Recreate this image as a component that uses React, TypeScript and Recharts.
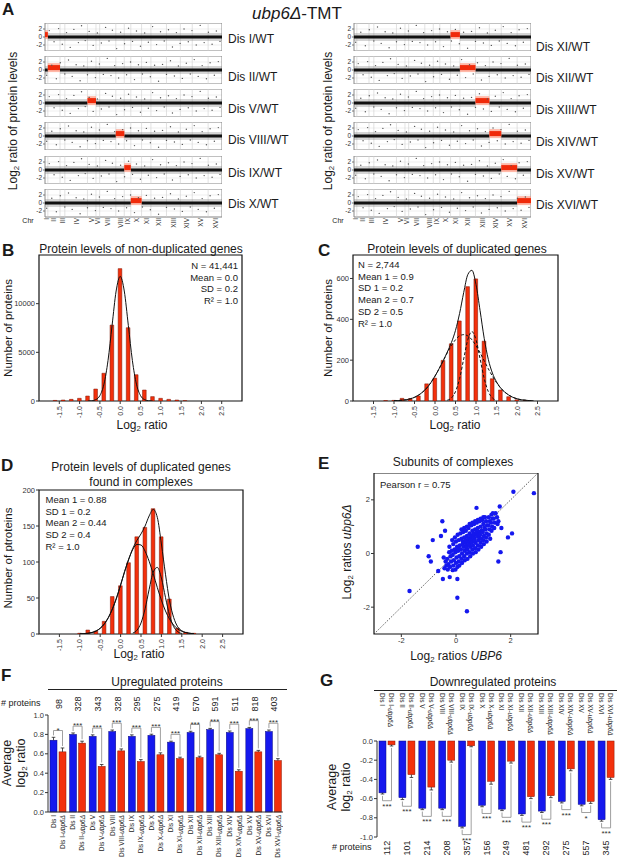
import React from 'react'
import { ComposedChart, Bar, Line, Scatter, XAxis, YAxis, ReferenceLine, ReferenceArea, CartesianGrid } from 'recharts'

const FONT = 'Arial, "Liberation Sans", Helvetica, sans-serif'
const RED = '#f3300c'
const BLUE = '#1518ee'
const INK = '#1a1a1a'

// ---------- A: protein ratios along the genome ----------
const chromosomes = ['I', 'II', 'III', 'IV', 'V', 'VI', 'VII', 'VIII', 'IX', 'X', 'XI', 'XII', 'XIII', 'XIV', 'XV', 'XVI']
const chrGenes = [100, 430, 170, 800, 300, 130, 570, 300, 230, 380, 330, 550, 490, 420, 560, 490]
const stripsLeft = ['I', 'II', 'V', 'VIII', 'IX', 'X']
const stripsRight = ['XI', 'XII', 'XIII', 'XIV', 'XV', 'XVI']
const dupLevel = 0.6
const strayOdd: [number, number][] = [[150,1.6],[320,-1.2],[480,2.1],[610,-1.8],[760,1.1],[890,-2.6],[1020,1.9],[1180,-1.4],[1290,2.8],[1420,-0.9],[1560,1.4],[1700,-2.1],[1850,1.0],[1990,-1.5],[2140,2.4],[2260,-1.0],[2380,1.7],[2530,-2.9],[2670,1.2],[2810,-1.7],[2950,2.2],[3090,-1.1],[3230,1.5],[3370,-2.3],[3520,1.0],[3650,-1.3],[3800,2.6],[3940,-1.9],[4080,1.3],[4210,-1.0],[4360,1.8],[4500,-2.5],[4640,1.1],[4770,-1.6],[4910,2.0],[5060,-1.2],[5190,1.6],[5340,-2.0],[5480,2.9],[5620,-1.4],[5770,1.2],[5900,-1.8],[6050,1.5],[6180,-1.1]]
const strayEven: [number, number][] = [[60,-1.3],[240,1.2],[400,-2.2],[540,1.8],[700,-1.0],[830,2.5],[960,-1.6],[1100,1.3],[1240,-2.7],[1370,1.0],[1500,-1.2],[1640,2.2],[1780,-1.9],[1920,1.5],[2060,-1.1],[2200,2.9],[2330,-1.4],[2460,1.1],[2600,-2.0],[2740,1.6],[2880,-1.2],[3020,2.0],[3160,-2.4],[3300,1.3],[3440,-1.0],[3580,1.9],[3720,-1.7],[3870,1.2],[4010,-2.8],[4150,1.4],[4290,-1.1],[4430,2.3],[4570,-1.5],[4710,1.0],[4850,-2.1],[4990,1.7],[5130,-1.0],[5270,2.6],[5410,-1.6],[5550,1.1],[5700,-2.2],[5830,1.8],[5980,-1.3],[6120,2.1]]

// ---------- B/C/D: histograms ----------
const histTicks = [-1.5, -1.0, -0.5, 0.0, 0.5, 1.0, 1.5, 2.0, 2.5]
const binsB = [-1.6, -1.4, -1.2, -1.0, -0.8, -0.6, -0.4, -0.2, 0.0, 0.2, 0.4, 0.6, 0.8, 1.0, 1.2, 1.4, 1.6]
const countsB = [60, 100, 170, 275, 510, 1230, 2850, 7800, 13600, 7530, 2700, 1130, 450, 275, 170, 100, 35]
const fitXB = [-0.8, -0.7, -0.6, -0.5, -0.4, -0.3, -0.2, -0.1, 0.0, 0.1, 0.2, 0.3, 0.4, 0.5, 0.6, 0.7, 0.8]
const fitB = [0, 20, 140, 560, 1730, 4160, 7770, 11300, 12800, 11300, 7770, 4160, 1730, 560, 140, 20, 0]

const binsC = [-1.2, -1.0, -0.8, -0.6, -0.4, -0.2, 0.0, 0.2, 0.4, 0.6, 0.8, 1.0, 1.2, 1.4, 1.6, 1.8, 2.0, 2.2]
const countsC = [2, 3, 13, 11, 25, 84, 112, 199, 280, 392, 560, 598, 293, 109, 54, 21, 6, 2]
const fitX = [-1.0, -0.9, -0.8, -0.7, -0.6, -0.5, -0.4, -0.3, -0.2, -0.1, 0.0, 0.1, 0.2, 0.3, 0.4, 0.5, 0.6, 0.7, 0.8, 0.9, 1.0, 1.1, 1.2, 1.3, 1.4, 1.5, 1.6, 1.7, 1.8, 1.9, 2.0, 2.1, 2.2, 2.3, 2.4]
const fitC = [1, 2, 4, 6, 11, 18, 29, 44, 64, 90, 122, 158, 197, 240, 286, 346, 429, 531, 619, 640, 571, 442, 307, 204, 137, 94, 64, 44, 29, 18, 11, 6, 4, 2, 1]
const fitC2 = [1, 2, 4, 6, 11, 18, 29, 44, 64, 90, 122, 158, 197, 236, 271, 300, 319, 325, 319, 300, 271, 236, 197, 158, 122, 90, 64, 44, 29, 18, 11, 6, 4, 2, 1]
const fitXC1 = [0.3, 0.4, 0.5, 0.6, 0.7, 0.8, 0.9, 1.0, 1.1, 1.2, 1.3, 1.4, 1.5]
const fitC1 = [4, 15, 46, 110, 206, 300, 340, 300, 206, 110, 46, 15, 4]

const binsD = [-1.0, -0.8, -0.6, -0.4, -0.2, 0.0, 0.2, 0.4, 0.6, 0.8, 1.0, 1.2, 1.4, 1.6, 1.8]
const countsD = [1, 5.5, 4, 17.6, 52, 67, 99, 135, 148, 174, 135, 48.5, 8, 2.3, 1]
const fitXD = [-1.0, -0.9, -0.8, -0.7, -0.6, -0.5, -0.4, -0.3, -0.2, -0.1, 0.0, 0.1, 0.2, 0.3, 0.4, 0.5, 0.6, 0.7, 0.8, 0.9, 1.0, 1.1, 1.2, 1.3, 1.4, 1.5, 1.6, 1.7, 1.8]
const fitD = [0, 0.5, 1, 2, 4, 8, 14, 23, 35, 50, 68, 87, 104, 119, 130, 139, 150, 164, 173, 162, 125, 83, 46, 23, 10, 4.5, 2, 1, 0.4]
const fitD2 = [0.2, 0.5, 1, 2.2, 4.3, 7.9, 13.8, 22.6, 34.8, 50, 68, 87, 104, 117.6, 124.4, 123.6, 115, 101, 83.4, 64.5, 47, 32, 20.6, 12.4, 7, 3.7, 1.9, 0.9, 0.4]
const fitXD1 = [0.3, 0.4, 0.5, 0.6, 0.7, 0.8, 0.9, 1.0, 1.1, 1.2, 1.3, 1.4, 1.5]
const fitD1 = [1.4, 5.2, 15.3, 35, 62, 86, 92.5, 77.7, 50.8, 25.8, 10.3, 3.2, 0.8]

// ---------- E: subunits of complexes (UBP6 vs ubp6Δ) ----------
const complexPts: [number, number][] = [
  [-0.42,-0.55],[-0.38,-0.3],[-0.45,-0.15],[-0.3,-0.6],[-0.28,-0.4],[-0.32,-0.2],[-0.25,0.05],[-0.35,-0.45],
  [-0.22,-0.5],[-0.18,-0.3],[-0.2,-0.1],[-0.15,0.1],[-0.24,0.25],[-0.12,-0.62],
  [-0.1,-0.45],[-0.08,-0.25],[-0.12,-0.05],[-0.05,0.15],[-0.1,0.35],[-0.02,-0.6],[-0.14,0.5],
  [0.0,-0.35],[0.02,-0.15],[-0.02,0.05],[0.04,0.25],[0.0,0.45],[0.05,-0.5],[-0.04,0.6],[0.03,0.12],
  [0.1,-0.3],[0.12,-0.1],[0.08,0.1],[0.14,0.3],[0.1,0.5],[0.06,0.7],[0.12,-0.45],[0.1,0.2],
  [0.2,-0.2],[0.22,0.0],[0.18,0.15],[0.24,0.35],[0.2,0.55],[0.16,0.75],[0.22,-0.35],[0.2,0.9],[0.25,0.45],
  [0.3,-0.1],[0.32,0.1],[0.28,0.25],[0.34,0.4],[0.3,0.6],[0.26,0.8],[0.32,-0.25],[0.3,0.95],[0.35,0.5],
  [0.4,0.0],[0.42,0.15],[0.38,0.3],[0.44,0.45],[0.4,0.65],[0.36,0.85],[0.42,-0.2],[0.4,1.0],[0.45,0.55],[0.38,0.22],
  [0.5,0.05],[0.52,0.25],[0.48,0.4],[0.54,0.55],[0.5,0.75],[0.46,0.95],[0.52,-0.1],[0.5,1.1],[0.55,0.65],[0.48,0.32],
  [0.6,0.15],[0.62,0.3],[0.58,0.5],[0.64,0.65],[0.6,0.85],[0.56,1.05],[0.62,0.0],[0.6,1.15],[0.65,0.75],[0.58,0.42],
  [0.7,0.2],[0.72,0.4],[0.68,0.55],[0.74,0.7],[0.7,0.9],[0.66,1.1],[0.72,0.05],[0.7,1.2],[0.75,0.8],[0.68,0.48],
  [0.8,0.3],[0.82,0.5],[0.78,0.65],[0.84,0.8],[0.8,0.95],[0.76,1.15],[0.82,0.15],[0.8,1.25],[0.85,0.6],
  [0.9,0.4],[0.92,0.55],[0.88,0.7],[0.94,0.85],[0.9,1.0],[0.86,1.2],[0.92,0.25],[0.9,1.3],
  [1.0,0.5],[1.02,0.65],[0.98,0.8],[1.04,0.95],[1.0,1.1],[0.96,1.25],[1.02,0.35],[1.0,1.35],
  [1.1,0.6],[1.12,0.75],[1.08,0.9],[1.14,1.05],[1.1,1.2],[1.06,1.35],[1.12,0.45],
  [1.2,0.7],[1.22,0.9],[1.18,1.05],[1.24,1.2],[1.2,1.35],[1.25,0.55],
  [1.3,0.85],[1.32,1.0],[1.28,1.15],[1.34,1.3],[1.3,1.45],[1.4,0.95],[1.42,1.15],[1.38,1.3],[1.45,1.5],
  [1.52,1.1],[1.5,1.35],[1.55,1.2],
  // outliers
  [-1.4,0.25],[-1.7,-1.4],[0.4,-2.15],[0.05,-1.65],[-0.85,0.5],[-0.5,1.2],[-0.4,0.85],[-0.55,0.65],
  [-1.0,-0.1],[-0.92,-0.3],[-0.65,-0.65],[-0.48,-0.95],[-0.23,-0.88],[0.05,-0.95],[0.75,1.7],[1.35,1.5],
  [1.6,1.75],[1.66,0.95],[2.05,0.75],[1.9,0.6],[1.63,0.05],[1.55,-0.3],[2.1,2.3],[2.85,2.25],
]

// ---------- F/G: average log2 ratios ----------
const groups = ['I', 'II', 'V', 'VIII', 'IX', 'X', 'XI', 'XII', 'XIII', 'XIV', 'XV', 'XVI']
const upCounts = [98, 328, 343, 328, 295, 275, 419, 570, 591, 511, 818, 403]
const upWT = [0.74, 0.80, 0.78, 0.83, 0.78, 0.79, 0.72, 0.82, 0.85, 0.82, 0.86, 0.83]
const upWTErr = [0.03, 0.015, 0.015, 0.015, 0.015, 0.012, 0.01, 0.012, 0.012, 0.015, 0.012, 0.015]
const upDel = [0.62, 0.71, 0.47, 0.63, 0.52, 0.59, 0.55, 0.56, 0.59, 0.42, 0.62, 0.53]
const upDelErr = [0.04, 0.02, 0.02, 0.02, 0.02, 0.02, 0.015, 0.015, 0.015, 0.015, 0.015, 0.02]
const upSig = ['*', '***', '***', '***', '***', '***', '***', '***', '***', '***', '***', '***']

const downCounts = [112, 101, 214, 208, 357, 156, 249, 481, 292, 275, 557, 345]
const downWT = [-0.54, -0.59, -0.70, -0.70, -0.89, -0.67, -0.71, -0.76, -0.73, -0.63, -0.66, -0.82]
const downWTErr = [0.012, 0.02, 0.015, 0.015, 0.015, 0.015, 0.015, 0.015, 0.015, 0.015, 0.015, 0.015]
const downDel = [-0.04, -0.35, -0.48, -0.20, -0.05, -0.42, -0.21, -0.58, -0.57, -0.29, -0.63, -0.38]
const downDelErr = [0.012, 0.03, 0.03, 0.02, 0.01, 0.03, 0.02, 0.02, 0.02, 0.02, 0.02, 0.02]
const downSig = ['***', '***', '***', '***', '***', '***', '***', '***', '***', '***', '*', '***']

// ---------- derived ----------
const chrStart = chrGenes.map((_, i) => chrGenes.slice(0, i).reduce((a, b) => a + b, 0))
const genomeLen = chrGenes.reduce((a, b) => a + b, 0)
const chrCenters = chrStart.map((s, i) => s + chrGenes[i] / 2)

const Sub = ({ c }: { c: string }) => <span style={{ fontSize: '0.65em', verticalAlign: '-0.3em' }}>{c}</span>

const Txt = ({ x, y, size = 12, anchor = 'start', rot = 0, weight, children }: any) => {
  const tx = anchor === 'middle' ? '-50%' : anchor === 'end' ? '-100%' : '0'
  return (
    <div style={{ position: 'absolute', left: x, top: y, transform: `translate(${tx}, -50%) rotate(${rot}deg)`, fontSize: size, lineHeight: 1.05, whiteSpace: 'nowrap', fontWeight: weight, color: INK }}>
      {children}
    </div>
  )
}

const ChrTick = (p: any) => {
  const i = chrCenters.indexOf(p.payload.value)
  return (
    <text x={p.x} y={p.y + 1} transform={`rotate(-90 ${p.x} ${p.y + 1})`} textAnchor="end" dominantBaseline="central" fontSize={6.5} fill="#333" fontFamily={FONT}>
      {chromosomes[i]}
    </text>
  )
}

const strayDot = (p: any) => <circle cx={p.cx} cy={p.cy} r={0.7} fill="#555" />

function Strip({ chr, stray, left, top, last }: any) {
  const i = chromosomes.indexOf(chr)
  const s = chrStart[i]
  const e = s + chrGenes[i]
  const band = [{ g: 0, v: 0 }, { g: s, v: 0 }, { g: (s + e) / 2, v: null }, { g: e, v: 0 }, { g: genomeLen, v: 0 }]
  const dup = [{ g: s, v: dupLevel }, { g: e, v: dupLevel }]
  const pts = stray.map(([g, v]: [number, number]) => ({ g, v }))
  return (
    <div style={{ position: 'absolute', left: left - 14, top }}>
      <ComposedChart width={14 + 177} height={last ? 28 + 18 : 28} margin={{ top: 0, right: 0, bottom: 0, left: 0 }}>
        <XAxis type="number" dataKey="g" domain={[0, genomeLen]} hide={!last} ticks={chrCenters} interval={0} tick={ChrTick} tickLine={false} axisLine={false} tickSize={0} tickMargin={0} height={18} allowDataOverflow />
        <YAxis type="number" dataKey="v" domain={[-3.5, 3.5]} ticks={[-2, 0, 2]} interval={0} width={14} tick={{ fontSize: 6.5, fill: '#333' }} tickSize={2} tickMargin={1} axisLine={false} tickLine={{ stroke: '#777' }} allowDataOverflow />
        <CartesianGrid vertical={false} stroke="#e4e4e4" strokeWidth={0.6} />
        {chrStart.slice(1).map((b) => <ReferenceLine key={b} x={b} stroke="#cfcfcf" strokeWidth={0.6} />)}
        <Scatter data={pts} shape={strayDot} isAnimationActive={false} />
        <Line data={band} dataKey="v" stroke="#888" strokeOpacity={0.35} strokeWidth={8} dot={false} isAnimationActive={false} />
        <Line data={band} dataKey="v" stroke="#111" strokeWidth={3} dot={false} isAnimationActive={false} />
        <Line data={dup} dataKey="v" stroke="#ff8a70" strokeOpacity={0.6} strokeWidth={9} dot={false} isAnimationActive={false} />
        <Line data={dup} dataKey="v" stroke="#f02a0a" strokeWidth={5} dot={false} isAnimationActive={false} />
        <ReferenceArea x1={0} x2={genomeLen} y1={-3.5} y2={3.5} fill="none" stroke="#8a8a8a" strokeWidth={1} />
      </ComposedChart>
    </div>
  )
}

const HistTick = (p: any) => (
  <text x={p.x} y={p.y} transform={`rotate(-90 ${p.x} ${p.y})`} textAnchor="end" dominantBaseline="central" fontSize={7} fill="#333" fontFamily={FONT}>
    {Number(p.payload.value).toFixed(1)}
  </text>
)

function Histo({ left, top, w, h, xs, counts, yMax, yTicks, curves }: any) {
  const bins = xs.map((x: number, i: number) => ({ x, n: counts[i] }))
  return (
    <div style={{ position: 'absolute', left: left - 30, top: top - 6 }}>
      <ComposedChart width={30 + w + 1} height={h + 26 + 6} data={bins} margin={{ top: 6, right: 1, bottom: 0, left: 0 }}>
        <XAxis type="number" dataKey="x" domain={[-2, 3]} ticks={histTicks} interval={0} tick={HistTick} tickSize={3} tickMargin={2} axisLine={false} tickLine={{ stroke: '#333' }} height={26} allowDataOverflow />
        <YAxis type="number" domain={[0, yMax]} ticks={yTicks} interval={0} width={30} tick={{ fontSize: 7.5, fill: '#333' }} tickSize={3} tickMargin={1} axisLine={false} tickLine={{ stroke: '#333' }} allowDataOverflow />
        <Bar dataKey="n" fill={RED} stroke="#7a1200" strokeWidth={0.5} barSize={6} isAnimationActive={false} />
        {curves.map((c: any, i: number) => (
          <Line key={i} data={c.xs.map((x: number, j: number) => ({ x, y: c.ys[j] }))} dataKey="y" type="monotone" stroke="#111" strokeWidth={1} strokeDasharray={c.dash} dot={false} isAnimationActive={false} />
        ))}
        <ReferenceArea x1={-2} x2={3} y1={0} y2={yMax} fill="none" stroke="#111" strokeWidth={1.2} />
      </ComposedChart>
    </div>
  )
}

// bar + one-sided error bar; the ubp6Δ bar also draws the significance bracket
function pairBar(key: 'wt' | 'del', ppu: number, up: boolean) {
  return (p: any) => {
    const { x, y, width, height, payload } = p
    const top = Math.min(y, y + height)
    const h = Math.abs(height)
    const zeroY = up ? top + h : top
    const dir = up ? -1 : 1
    const at = (m: number) => zeroY + dir * m * ppu
    const cx = x + width / 2
    const val = Math.abs(payload[key])
    const err = payload[key + 'Err']
    const errY = at(val + err)
    const parts: any[] = [
      <rect key="r" x={x} y={top} width={width} height={h} fill={key === 'wt' ? BLUE : RED} stroke={key === 'wt' ? '#0a0a80' : '#8a1500'} strokeWidth={0.5} />,
      <line key="e" x1={cx} x2={cx} y1={at(val)} y2={errY} stroke="#222" strokeWidth={0.8} />,
      <line key="c" x1={cx - 1.8} x2={cx + 1.8} y1={errY} y2={errY} stroke="#222" strokeWidth={0.8} />,
    ]
    if (key === 'del') {
      const bx = x - 2 - width / 2
      const wt = Math.abs(payload.wt)
      const lvl = at(Math.max(wt + payload.wtErr, val + err) + 0.07)
      parts.push(
        <path key="b" d={`M${bx},${at(wt + payload.wtErr + 0.02)} V${lvl} H${cx} V${at(val + err + 0.02)}`} fill="none" stroke="#888" strokeWidth={0.8} />,
        <text key="s" x={(bx + cx) / 2} y={up ? lvl + 2 : lvl + 8} textAnchor="middle" fontSize={8} fill="#333" fontFamily={FONT}>{payload.sig}</text>,
      )
    }
    return <g>{parts}</g>
  }
}

const DelLabel = ({ x, y, name, rot, anchor }: any) => (
  <text x={x} y={y} transform={`rotate(${rot} ${x} ${y})`} textAnchor={anchor} dominantBaseline="central" fontSize={6.5} fill="#222" fontFamily={FONT}>
    Dis {name}-<tspan fontStyle="italic">ubp6Δ</tspan>
  </text>
)

const FBottomTick = (p: any) => {
  const name = p.payload.value
  const y0 = p.y + 3
  return (
    <g>
      <text x={p.x - 4.5} y={y0} transform={`rotate(-90 ${p.x - 4.5} ${y0})`} textAnchor="end" dominantBaseline="central" fontSize={6.5} fill="#222" fontFamily={FONT}>Dis {name}</text>
      <DelLabel x={p.x + 4.5} y={y0} name={name} rot={-90} anchor="end" />
    </g>
  )
}

const FTopTick = (p: any) => {
  const i = groups.indexOf(p.payload.value)
  const y0 = p.y - 11
  return (
    <text x={p.x + 1} y={y0} transform={`rotate(-90 ${p.x + 1} ${y0})`} textAnchor="middle" dominantBaseline="central" fontSize={9} fill="#222" fontFamily={FONT}>{upCounts[i]}</text>
  )
}

const GTopTick = (p: any) => {
  const name = p.payload.value
  const y0 = p.y - 48
  return (
    <g>
      <text x={p.x - 4.5} y={y0} transform={`rotate(90 ${p.x - 4.5} ${y0})`} textAnchor="start" dominantBaseline="central" fontSize={6.5} fill="#222" fontFamily={FONT}>Dis {name}</text>
      <DelLabel x={p.x + 4.5} y={y0} name={name} rot={90} anchor="start" />
    </g>
  )
}

const GBottomTick = (p: any) => {
  const i = groups.indexOf(p.payload.value)
  const y0 = p.y + 11
  return (
    <text x={p.x} y={y0} transform={`rotate(-90 ${p.x} ${y0})`} textAnchor="middle" dominantBaseline="central" fontSize={9} fill="#222" fontFamily={FONT}>{downCounts[i]}</text>
  )
}

const upRows = groups.map((name, i) => ({ name, wt: upWT[i], wtErr: upWTErr[i], del: upDel[i], delErr: upDelErr[i], sig: upSig[i] }))
const downRows = groups.map((name, i) => ({ name, wt: downWT[i], wtErr: downWTErr[i], del: downDel[i], delErr: downDelErr[i], sig: downSig[i] }))
const fix1 = (v: number) => v.toFixed(1)

const STRIP_TOPS = [23, 56, 89, 122, 156, 189]
const leftLabelOff = [16, 21, 20, 18, 17, 15]
const rightLabelOff = [24, 22, 21, 20, 18, 16]

export default function App() {
  return (
    <div style={{ position: 'absolute', left: 0, top: 0, width: 617, height: 860, background: '#fff', overflow: 'hidden', fontFamily: FONT, color: INK }}>
      {/* A */}
      <Txt x={2} y={10} size={17} weight="bold">A</Txt>
      <Txt x={297} y={14} size={17} anchor="middle"><i>ubp6Δ</i>-TMT</Txt>
      <Txt x={14} y={121} size={12} anchor="middle" rot={-90}>Log<Sub c="2" /> ratio of protein levels</Txt>
      <Txt x={329} y={121} size={12} anchor="middle" rot={-90}>Log<Sub c="2" /> ratio of protein levels</Txt>
      {stripsLeft.map((c, k) => (
        <React.Fragment key={c}>
          <Strip chr={c} stray={k % 2 ? strayEven : strayOdd} left={45} top={STRIP_TOPS[k]} last={k === 5} />
          <Txt x={228} y={STRIP_TOPS[k] + leftLabelOff[k]} size={12}>Dis {c}/WT</Txt>
        </React.Fragment>
      ))}
      {stripsRight.map((c, k) => (
        <React.Fragment key={c}>
          <Strip chr={c} stray={k % 2 ? strayOdd : strayEven} left={354} top={STRIP_TOPS[k]} last={k === 5} />
          <Txt x={536} y={STRIP_TOPS[k] + rightLabelOff[k]} size={12}>Dis {c}/WT</Txt>
        </React.Fragment>
      ))}
      <Txt x={28} y={221} size={7} anchor="middle">Chr</Txt>
      <Txt x={338} y={221} size={7} anchor="middle">Chr</Txt>

      {/* B */}
      <Txt x={2} y={251} size={17} weight="bold">B</Txt>
      <Txt x={141} y={249} size={12} anchor="middle">Protein levels of non-duplicated genes</Txt>
      <Histo left={39} top={255} w={203} h={146} xs={binsB} counts={countsB} yMax={15000} yTicks={[0, 5000, 10000]}
        curves={[{ xs: fitXB, ys: fitB }]} />
      <Txt x={238} y={266} size={9.5} anchor="end">N = 41,441</Txt>
      <Txt x={238} y={277.5} size={9.5} anchor="end">Mean = 0.0</Txt>
      <Txt x={238} y={289} size={9.5} anchor="end">SD = 0.2</Txt>
      <Txt x={238} y={300.5} size={9.5} anchor="end">R² = 1.0</Txt>
      <Txt x={8} y={328} size={11.5} anchor="middle" rot={-90}>Number of proteins</Txt>
      <Txt x={142} y={426} size={12} anchor="middle">Log<Sub c="2" /> ratio</Txt>

      {/* C */}
      <Txt x={318} y={251} size={17} weight="bold">C</Txt>
      <Txt x={457} y={249} size={12} anchor="middle">Protein levels of duplicated genes</Txt>
      <Histo left={353} top={255} w={205} h={146} xs={binsC} counts={countsC} yMax={715} yTicks={[0, 200, 400, 600]}
        curves={[{ xs: fitX, ys: fitC }, { xs: fitX, ys: fitC2, dash: '3 2' }, { xs: fitXC1, ys: fitC1, dash: '3 2' }]} />
      {['N = 2,744', 'Mean 1  = 0.9', 'SD 1 = 0.2', 'Mean 2 = 0.7', 'SD 2 = 0.5', 'R² = 1.0'].map((t, k) => (
        <Txt key={t} x={358} y={265 + k * 11.7} size={9.5}>{t}</Txt>
      ))}
      <Txt x={328} y={328} size={11.5} anchor="middle" rot={-90}>Number of proteins</Txt>
      <Txt x={455} y={426} size={12} anchor="middle">Log<Sub c="2" /> ratio</Txt>

      {/* D */}
      <Txt x={1} y={466} size={17} weight="bold">D</Txt>
      <Txt x={141} y={467} size={12} anchor="middle">Protein levels of duplicated genes</Txt>
      <Txt x={141} y={482} size={12} anchor="middle">found in complexes</Txt>
      <Histo left={39} top={490} w={204} h={144} xs={binsD} counts={countsD} yMax={200} yTicks={[0, 50, 100, 150, 200]}
        curves={[{ xs: fitXD, ys: fitD }, { xs: fitXD, ys: fitD2 }, { xs: fitXD1, ys: fitD1 }]} />
      {['Mean 1 = 0.88', 'SD 1 = 0.2', 'Mean 2 = 0.44', 'SD 2 = 0.4', 'R² = 1.0'].map((t, k) => (
        <Txt key={t} x={45.5} y={500 + k * 11.7} size={9.5}>{t}</Txt>
      ))}
      <Txt x={8} y={558} size={11.5} anchor="middle" rot={-90}>Number of ptroteins</Txt>
      <Txt x={139} y={655} size={12} anchor="middle">Log<Sub c="2" /> ratio</Txt>

      {/* E */}
      <Txt x={318} y={464} size={17} weight="bold">E</Txt>
      <Txt x={453} y={462} size={12} anchor="middle">Subunits of complexes</Txt>
      <div style={{ position: 'absolute', left: 354, top: 473 }}>
        <ComposedChart width={20 + 164 + 1} height={161 + 16} margin={{ top: 0, right: 1, bottom: 0, left: 0 }}>
          <XAxis type="number" dataKey="x" domain={[-3, 3]} ticks={[-2, 0, 2]} interval={0} tick={{ fontSize: 7.5, fill: '#333' }} tickSize={3} tickMargin={1} axisLine={false} tickLine={{ stroke: '#333' }} height={16} allowDataOverflow />
          <YAxis type="number" dataKey="y" domain={[-3, 3]} ticks={[-2, 0, 2]} interval={0} width={20} tick={{ fontSize: 7.5, fill: '#333' }} tickSize={3} tickMargin={1} axisLine={false} tickLine={{ stroke: '#333' }} allowDataOverflow />
          <ReferenceLine segment={[{ x: -3, y: -3 }, { x: 3, y: 3 }]} stroke="#333" strokeWidth={0.8} strokeDasharray="1.5 1.5" />
          <Scatter data={complexPts.map(([x, y]) => ({ x, y }))} shape={(p: any) => <circle cx={p.cx} cy={p.cy} r={2.2} fill={BLUE} />} isAnimationActive={false} />
          <ReferenceArea x1={-3} x2={3} y1={-3} y2={3} fill="none" stroke="#111" strokeWidth={1.2} />
        </ComposedChart>
      </div>
      <Txt x={380} y={485} size={9.5}>Pearson r = 0.75</Txt>
      <Txt x={348} y={552} size={12} anchor="middle" rot={-90}>Log<Sub c="2" /> ratios <i>ubp6Δ</i></Txt>
      <Txt x={456} y={657} size={12} anchor="middle">Log<Sub c="2" /> ratios <i>UBP6</i></Txt>

      {/* F */}
      <Txt x={1} y={676} size={17} weight="bold">F</Txt>
      <Txt x={167} y={682} size={12} anchor="middle">Upregulated proteins</Txt>
      <div style={{ position: 'absolute', left: 48, top: 689, width: 239, height: 1, background: '#222' }} />
      <Txt x={1} y={704} size={9}># proteins</Txt>
      <div style={{ position: 'absolute', left: 22, top: 691 }}>
        <ComposedChart width={26 + 235} height={24 + 97 + 50} data={upRows} barGap={2} margin={{ top: 0, right: 0, bottom: 0, left: 0 }}>
          <XAxis dataKey="name" tick={FBottomTick} tickLine={false} tickSize={0} tickMargin={0} axisLine={{ stroke: '#333' }} height={50} interval={0} />
          <XAxis xAxisId="top" orientation="top" dataKey="name" tick={FTopTick} tickLine={false} tickSize={0} tickMargin={0} axisLine={false} height={24} interval={0} />
          <YAxis type="number" domain={[0, 1]} ticks={[0, 0.2, 0.4, 0.6, 0.8, 1.0]} interval={0} tickFormatter={fix1} width={26} tick={{ fontSize: 7.5, fill: '#333' }} tickSize={3} tickMargin={1} axisLine={{ stroke: '#333' }} tickLine={{ stroke: '#333' }} />
          <Bar dataKey="wt" barSize={7} shape={pairBar('wt', 97, true)} isAnimationActive={false} />
          <Bar dataKey="del" barSize={7} shape={pairBar('del', 97, true)} isAnimationActive={false} />
        </ComposedChart>
      </div>
      <Txt x={8} y={763} size={12.5} anchor="middle" rot={-90}>Average</Txt>
      <Txt x={22} y={763} size={12.5} anchor="middle" rot={-90}>log<Sub c="2" /> ratio</Txt>

      {/* G */}
      <Txt x={320} y={681} size={17} weight="bold">G</Txt>
      <Txt x={493} y={682} size={12} anchor="middle">Downregulated proteins</Txt>
      <div style={{ position: 'absolute', left: 374, top: 690, width: 243, height: 1, background: '#222' }} />
      <Txt x={332} y={848} size={9}># proteins</Txt>
      <div style={{ position: 'absolute', left: 351, top: 691 }}>
        <ComposedChart width={26 + 239} height={50 + 96 + 20} data={downRows} barGap={2} margin={{ top: 0, right: 0, bottom: 0, left: 0 }}>
          <XAxis dataKey="name" tick={GBottomTick} tickLine={false} tickSize={0} tickMargin={0} axisLine={false} height={20} interval={0} />
          <XAxis xAxisId="top" orientation="top" dataKey="name" tick={GTopTick} tickLine={false} tickSize={0} tickMargin={0} axisLine={false} height={50} interval={0} />
          <YAxis type="number" domain={[-1, 0]} ticks={[-1.0, -0.8, -0.6, -0.4, -0.2, 0]} interval={0} tickFormatter={fix1} width={26} tick={{ fontSize: 7.5, fill: '#333' }} tickSize={3} tickMargin={1} axisLine={{ stroke: '#333' }} tickLine={{ stroke: '#333' }} />
          <Bar dataKey="wt" barSize={7} shape={pairBar('wt', 96, false)} isAnimationActive={false} />
          <Bar dataKey="del" barSize={7} shape={pairBar('del', 96, false)} isAnimationActive={false} />
        </ComposedChart>
      </div>
      <Txt x={333} y={787} size={12.5} anchor="middle" rot={-90}>Average</Txt>
      <Txt x={347} y={787} size={12.5} anchor="middle" rot={-90}>log<Sub c="2" /> ratio</Txt>
    </div>
  )
}
